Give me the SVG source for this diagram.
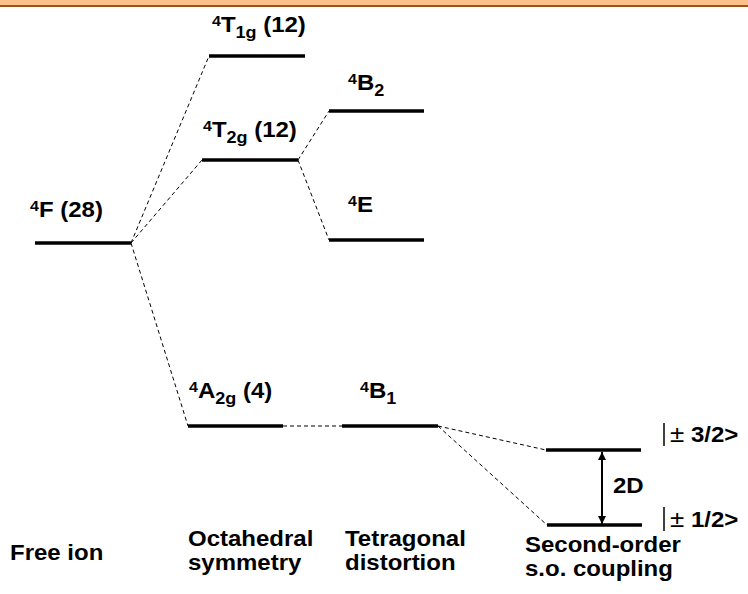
<svg xmlns="http://www.w3.org/2000/svg" width="748" height="594" viewBox="0 0 748 594">
<defs>
<style>
.lvl{stroke:#000;stroke-width:3.5;fill:none}
.dash{stroke:#000;stroke-width:1;stroke-dasharray:4 3;fill:none}
text{font-family:"Liberation Sans",Arial,sans-serif;font-weight:bold;font-size:24px;fill:#000}
.sup{font-size:16px}
.sub{font-size:18px}
.pm{font-weight:normal;font-size:26px}
</style>
<marker id="ah" viewBox="0 0 10 10" refX="10" refY="5" markerWidth="9" markerHeight="8" markerUnits="userSpaceOnUse" orient="auto-start-reverse">
<path d="M0,0 L10,5 L0,10 z" fill="#000"/>
</marker>
</defs>
<rect x="0" y="0" width="748" height="5" fill="#FBC08C"/>
<rect x="0" y="5" width="748" height="2" fill="#A0501A"/>
<g id="connectors">
<line class="dash" x1="131" y1="243" x2="209" y2="56"/>
<line class="dash" x1="131" y1="243" x2="202" y2="160"/>
<line class="dash" x1="131" y1="243" x2="188" y2="426"/>
<line class="dash" x1="298" y1="160" x2="329" y2="111"/>
<line class="dash" x1="298" y1="160" x2="329" y2="240"/>
<line class="dash" x1="283" y1="426" x2="342" y2="426"/>
<line class="dash" x1="438" y1="426" x2="546" y2="450"/>
<line class="dash" x1="438" y1="426" x2="547" y2="525"/>
<line x1="602" y1="452" x2="602" y2="524" stroke="#000" stroke-width="2" marker-start="url(#ah)" marker-end="url(#ah)"/>
</g>
<g id="free-ion">
<line class="lvl" x1="35" y1="243" x2="131" y2="243"/>
<text transform="translate(30 217) scale(1 0.92)"><tspan class="sup" dy="-7">4</tspan><tspan dy="7">F (28)</tspan></text>
</g>
<g id="T1g">
<line class="lvl" x1="209" y1="56" x2="305" y2="56"/>
<text transform="translate(212 32) scale(1 0.92)"><tspan class="sup" dy="-7">4</tspan><tspan dy="7">T</tspan><tspan class="sub" dy="6">1g</tspan><tspan dy="-6"> (12)</tspan></text>
</g>
<g id="T2g">
<line class="lvl" x1="202" y1="160" x2="298" y2="160"/>
<text transform="translate(203 137) scale(1 0.92)"><tspan class="sup" dy="-7">4</tspan><tspan dy="7">T</tspan><tspan class="sub" dy="6">2g</tspan><tspan dy="-6"> (12)</tspan></text>
</g>
<g id="B2">
<line class="lvl" x1="329" y1="111" x2="424" y2="111"/>
<text transform="translate(348 90) scale(1 0.92)"><tspan class="sup" dy="-7">4</tspan><tspan dy="7">B</tspan><tspan class="sub" dy="6">2</tspan></text>
</g>
<g id="E">
<line class="lvl" x1="329" y1="240" x2="424" y2="240"/>
<text transform="translate(348 212) scale(1 0.92)"><tspan class="sup" dy="-7">4</tspan><tspan dy="7">E</tspan></text>
</g>
<g id="A2g">
<line class="lvl" x1="188" y1="426" x2="283" y2="426"/>
<text transform="translate(189 398) scale(1 0.92)"><tspan class="sup" dy="-7">4</tspan><tspan dy="7">A</tspan><tspan class="sub" dy="6">2g</tspan><tspan dy="-6"> (4)</tspan></text>
</g>
<g id="B1">
<line class="lvl" x1="342" y1="426" x2="438" y2="426"/>
<text transform="translate(360 398) scale(1 0.92)"><tspan class="sup" dy="-7">4</tspan><tspan dy="7">B</tspan><tspan class="sub" dy="6">1</tspan></text>
</g>
<g id="m32">
<line class="lvl" x1="546" y1="450" x2="641" y2="450"/>
<line x1="664" y1="423" x2="664" y2="446" stroke="#000" stroke-width="1.5"/>
<text transform="translate(670 442) scale(1 0.92)"><tspan class="pm">±</tspan> 3/2&gt;</text>
</g>
<g id="m12">
<line class="lvl" x1="547" y1="525" x2="642" y2="525"/>
<line x1="664" y1="507" x2="664" y2="531" stroke="#000" stroke-width="1.5"/>
<text transform="translate(670 527) scale(1 0.92)"><tspan class="pm">±</tspan> 1/2&gt;</text>
</g>
<g id="label-2D">
<text transform="translate(613 493) scale(1 0.92)">2D</text>
</g>
<g id="captions">
<text transform="translate(10 560) scale(1 0.92)">Free ion</text>
<text transform="translate(188 546) scale(1 0.92)">Octahedral</text>
<text transform="translate(188 570) scale(1 0.92)">symmetry</text>
<text transform="translate(345 546) scale(1 0.92)">Tetragonal</text>
<text transform="translate(345 570) scale(1 0.92)">distortion</text>
<text transform="translate(525 552) scale(1 0.92)">Second-order</text>
<text transform="translate(525 576) scale(1 0.92)">s.o. coupling</text>
</g>
</svg>
